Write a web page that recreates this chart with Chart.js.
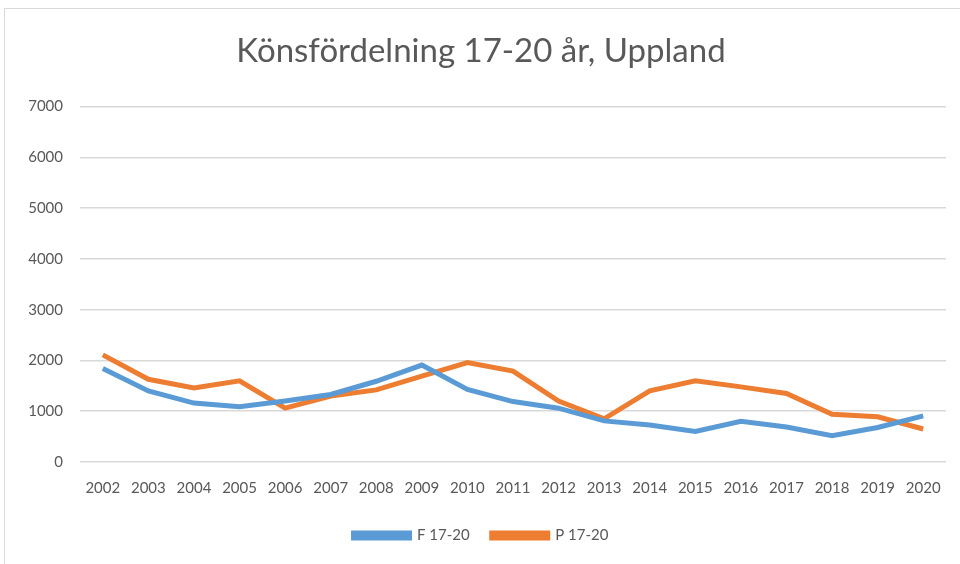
<!DOCTYPE html>
<html>
<head>
<meta charset="utf-8">
<script src="https://cdn.jsdelivr.net/npm/chart.js@4/dist/chart.umd.min.js"></script>
<style>
  body { margin: 0; background: #fff; }
  #wrap { position: relative; width: 960px; height: 564px; overflow: hidden; }
  #frame { position: absolute; left: 4px; top: 8px; width: 970px; height: 600px; border: 1px solid #d9d9d9; }
  #c { position: absolute; left: 0; top: 0; }
</style>
</head>
<body>
<div id="wrap">
  <div id="frame"></div>
  <canvas id="c" width="960" height="564"></canvas>
</div>
<script>
const years = ["2002","2003","2004","2005","2006","2007","2008","2009","2010","2011","2012","2013","2014","2015","2016","2017","2018","2019","2020"];
const f1720 = [1840,1400,1160,1090,1200,1330,1590,1910,1430,1190,1060,810,730,600,800,690,520,680,910];
const p1720 = [2110,1630,1460,1600,1060,1300,1420,1690,1960,1790,1200,850,1400,1600,1480,1350,940,890,650];
const yTicks = [0,1000,2000,3000,4000,5000,6000,7000];

const grey = "#595959";
const font = "Lato, 'Open Sans', sans-serif";

new Chart(document.getElementById("c"), {
    type: "line",
    data: {
        labels: years,
        datasets: [
            {
                label: "F 17-20",
                data: f1720,
                borderColor: "#5b9bd5",
                backgroundColor: "#5b9bd5",
                borderWidth: 5,
                pointRadius: 0,
                tension: 0
            },
            {
                label: "P 17-20",
                data: p1720,
                borderColor: "#ed7d31",
                backgroundColor: "#ed7d31",
                borderWidth: 5,
                pointRadius: 0,
                tension: 0
            }
        ]
    },
    options: {
        responsive: false,
        animation: false,
        layout: { padding: { left: 16, right: 14, top: 32, bottom: 11 } },
        plugins: {
            title: {
                display: true,
                text: "Könsfördelning 17-20 år, Uppland",
                color: grey,
                font: { family: font, size: 33, weight: "normal" },
                padding: { top: 0, bottom: 35 }
            },
            legend: {
                position: "bottom",
                labels: {
                    color: grey,
                    font: { family: font, size: 15 },
                    boxWidth: 56,
                    boxHeight: 5,
                    padding: 22
                }
            },
            tooltip: { enabled: false }
        },
        scales: {
            x: {
                offset: true,
                grid: { display: false },
                border: { display: false },
                ticks: { color: grey, font: { family: font, size: 15 }, maxRotation: 0, autoSkip: false, padding: 9 }
            },
            y: {
                min: 0,
                max: 7000,
                afterBuildTicks: s => { s.ticks = yTicks.map(v => ({ value: v })); },
                afterFit: s => { s.width = 64; },
                grid: { color: "#d9d9d9", lineWidth: 1.5, drawTicks: false },
                border: { display: false },
                ticks: { color: grey, font: { family: font, size: 15 }, padding: 17, callback: v => String(v) }
            }
        }
    }
});
</script>
</body>
</html>
